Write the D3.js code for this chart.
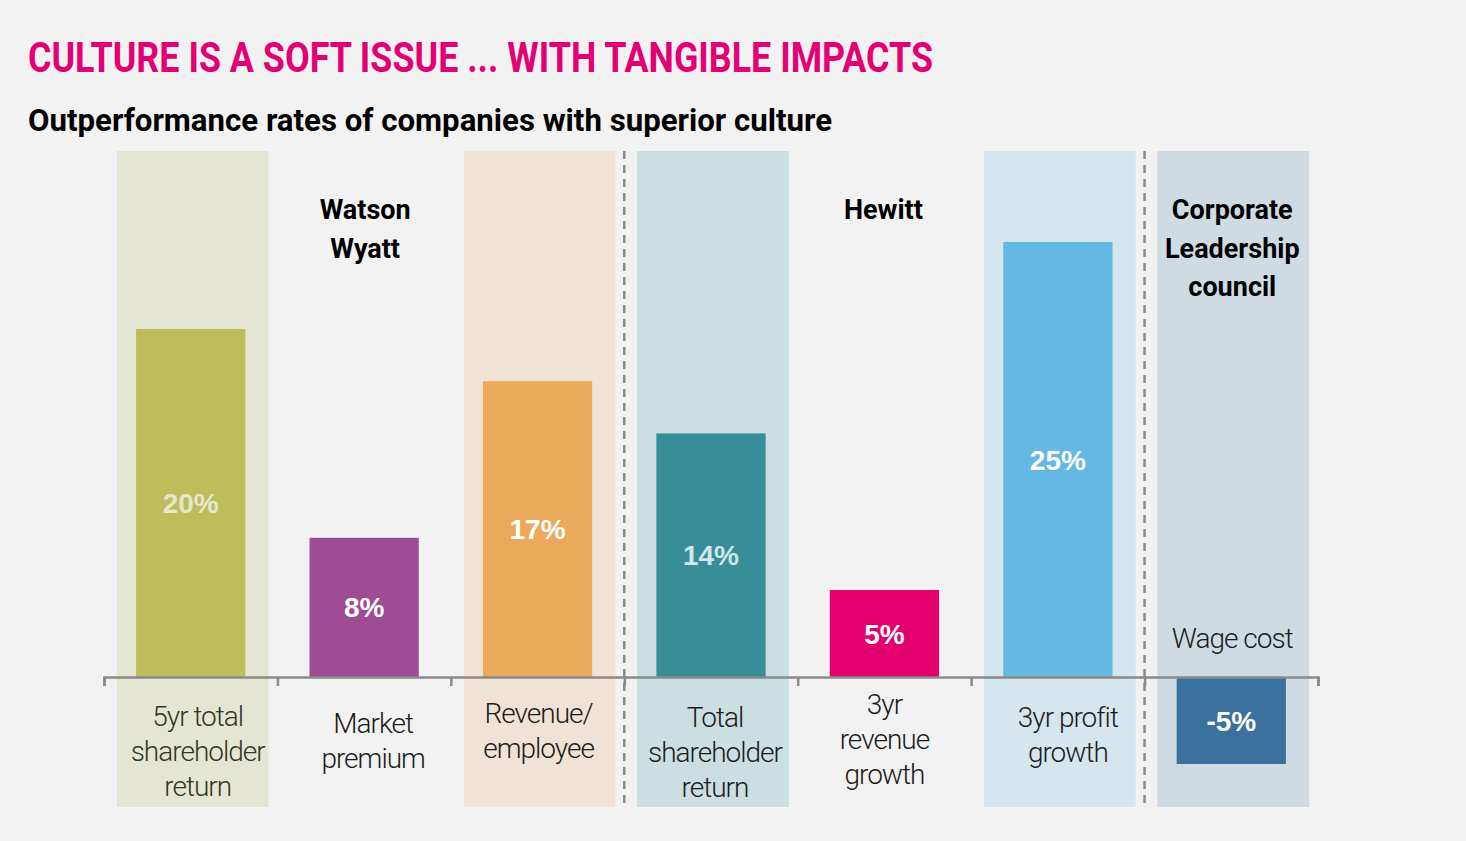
<!DOCTYPE html>
<html>
<head>
<meta charset="utf-8">
<script src="https://cdn.jsdelivr.net/npm/d3@7"></script>
<style>
  body { margin: 0; background: #f2f2f2; }
  svg { display: block; }
  .narrow { font-family: "Liberation Sans Narrow", "Roboto", sans-serif; }
</style>
</head>
<body>
<div class="d3"></div>
<script>
// chart data
let categories = [
  ['5yr total', 'shareholder', 'return'],
  ['Market', 'premium'],
  ['Revenue/', 'employee'],
  ['Total', 'shareholder', 'return'],
  ['3yr', 'revenue', 'growth'],
  ['3yr profit', 'growth'],
  ['Wage cost']
];
let values = [20, 8, 17, 14, 5, 25, -5];
let barColors = ['#bdbd5c', '#9e4c94', '#eda95b', '#378e99', '#e3006e', '#64b8e3', '#3b719e'];
let bgColors = ['#e4e6d3', null, '#f0e3d5', '#cbdee2', null, '#d6e6ef', '#cfdbe3'];
let valueColors = ['#e6e7cf', '#ffffff', '#ffffff', '#d2e5e8', '#ffffff', '#ffffff', '#ffffff'];
let groups = [
  { lines: ['Watson', 'Wyatt'], at: 1 },
  { lines: ['Hewitt'], at: 4 },
  { lines: ['Corporate', 'Leadership', 'council'], at: 6 }
];
let dividers = [3, 6];

(() => {
  document.addEventListener('DOMContentLoaded', () => {
    let width = 1466;
    let height = 841;

    let svg = d3
      .select('.d3')
      .append('svg')
      .attr('width', width)
      .attr('height', height);

    // title + subtitle
    svg.append('text')
      .attr('class', 'narrow')
      .attr('x', 28).attr('y', 72)
      .attr('fill', '#e20074')
      .attr('font-size', 42)
      .attr('font-weight', 'bold')
      .attr('textLength', 905)
      .attr('lengthAdjust', 'spacingAndGlyphs')
      .text('CULTURE IS A SOFT ISSUE ... WITH TANGIBLE IMPACTS');

    svg.append('text')
      .attr('class', 'narrow')
      .attr('x', 28).attr('y', 131)
      .attr('fill', '#000')
      .attr('font-size', 31)
      .attr('font-weight', 'bold')
      .attr('textLength', 804)
      .attr('lengthAdjust', 'spacingAndGlyphs')
      .text('Outperformance rates of companies with superior culture');

    let idx = d3.range(values.length);

    // boundaries for the axis ticks
    let edge = d3.scaleLinear().domain([0, values.length]).range([104, 1318]);
    let x = d3.scaleBand().domain(idx).range([104, 1318]).paddingInner(0.37).paddingOuter(0.185);
    let bgX = d3.scaleBand().domain(idx).range([106, 1320]).paddingInner(0.125).paddingOuter(0.0625);
    let y = d3.scaleLinear().domain([-5, 25]).range([764, 242]);

    let top = 151, bottom = 807;

    // background columns
    svg.append('g')
      .selectAll('rect')
      .data(idx.filter(i => bgColors[i]))
      .enter()
      .append('rect')
      .attr('x', i => bgX(i))
      .attr('width', bgX.bandwidth())
      .attr('y', top)
      .attr('height', bottom - top)
      .attr('fill', i => bgColors[i]);

    // dashed dividers
    svg.append('g')
      .selectAll('line')
      .data(dividers)
      .enter()
      .append('line')
      .attr('x1', d => edge(d)).attr('x2', d => edge(d))
      .attr('y1', top).attr('y2', bottom)
      .attr('stroke', '#8a8a8a')
      .attr('stroke-width', 2.5)
      .attr('stroke-dasharray', '8,6');

    // bars
    svg.append('g')
      .selectAll('rect')
      .data(idx)
      .enter()
      .append('rect')
      .attr('x', i => x(i))
      .attr('width', x.bandwidth())
      .attr('y', i => y(Math.max(0, values[i])))
      .attr('height', i => Math.abs(y(values[i]) - y(0)))
      .attr('fill', i => barColors[i]);

    // value labels
    svg.append('g')
      .selectAll('text')
      .data(idx)
      .enter()
      .append('text')
      .attr('x', i => x(i) + x.bandwidth() / 2)
      .attr('y', i => (y(values[i]) + y(0)) / 2 + 10)
      .attr('text-anchor', 'middle')
      .attr('font-family', '"Liberation Sans", Arial, sans-serif')
      .attr('font-weight', 'bold')
      .attr('font-size', 28)
      .attr('fill', i => valueColors[i])
      .text(i => values[i] + '%');

    // axis
    let axis = svg.append('g')
      .attr('transform', 'translate(0,' + y(0) + ')')
      .call(d3.axisBottom(edge).tickValues(d3.range(values.length + 1)).tickFormat('').tickSize(9).tickSizeOuter(9));
    axis.selectAll('path, line').attr('stroke', '#8a8a8a').attr('stroke-width', 2.5);

    // category labels
    let labelTop = [726, 733, 723, 727, 714, 727, 648];
    let labelDx = [7, 9, 1, 4, 0, 10, 1];
    let cat = svg.append('g')
      .selectAll('text')
      .data(idx)
      .enter()
      .append('text')
      .attr('class', 'narrow')
      .attr('text-anchor', 'middle')
      .attr('font-size', 28)
      .attr('font-weight', 300)
      .attr('letter-spacing', -1)
      .attr('fill', i => i === 0 ? '#34361f' : '#1c1c1c')
      .attr('y', i => labelTop[i]);
    cat.selectAll('tspan')
      .data(i => categories[i].map(t => ({ t: t, i: i })))
      .enter()
      .append('tspan')
      .attr('x', d => x(d.i) + x.bandwidth() / 2 + labelDx[d.i])
      .attr('dy', (d, k) => k === 0 ? 0 : 35)
      .text(d => d.t);

    // group labels
    let groupDx = [1, -1, 1];
    let gl = svg.append('g')
      .selectAll('text')
      .data(groups)
      .enter()
      .append('text')
      .attr('class', 'narrow')
      .attr('text-anchor', 'middle')
      .attr('font-size', 27)
      .attr('font-weight', 'bold')
      .attr('fill', '#000')
      .attr('y', 219);
    gl.selectAll('tspan')
      .data((g, j) => g.lines.map(t => ({ t: t, at: g.at, j: j })))
      .enter()
      .append('tspan')
      .attr('x', d => x(d.at) + x.bandwidth() / 2 + groupDx[d.j])
      .attr('dy', (d, k) => k === 0 ? 0 : 38.5)
      .text(d => d.t);
  });
})();
</script>
</body>
</html>
